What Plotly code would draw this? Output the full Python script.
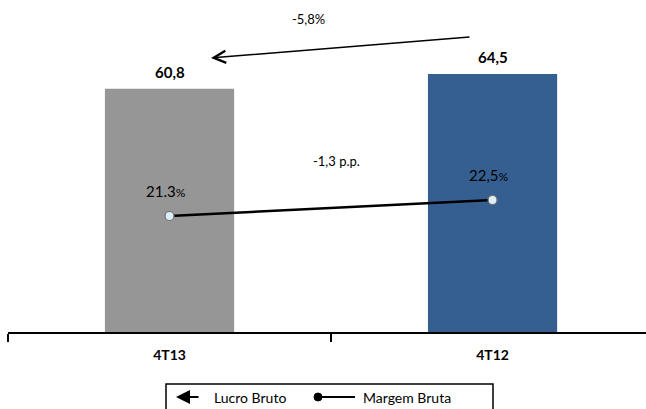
import plotly.graph_objects as go

categories = ["4T13", "4T12"]
lucro_bruto = [60.8, 64.5]
margem_bruta = [21.3, 22.5]
margem_labels = ["21.3", "22,5"]
bar_colors = ["#969696", "#365F91"]
var_lucro = "-5,8%"
var_margem = "-1,3 p.p."

W, H = 646, 409
PL, PR, PT, PB = 8, 646, 0, 332
FONT = "Lato"


def px(x):
    return (x - PL) / (PR - PL)


def py(y):
    return (PB - y) / (PB - PT)


fig = go.Figure()
fig.add_trace(go.Bar(
    x=categories, y=lucro_bruto, marker=dict(color=bar_colors, line=dict(width=0)),
    width=0.4, showlegend=False, yaxis="y", hoverinfo="skip",
))
fig.add_trace(go.Scatter(
    x=categories, y=margem_bruta, mode="lines+markers", yaxis="y2",
    line=dict(color="black", width=2.5),
    marker=dict(size=9, color="#DDEFF5", line=dict(color="#6E6E6E", width=1.2)),
    showlegend=False, hoverinfo="skip",
))

annotations = []
for c, v in zip(categories, lucro_bruto):
    annotations.append(dict(
        x=c, y=v, xref="x", yref="y", text=f"{v:.1f}".replace(".", ","),
        showarrow=False, yshift=17, yanchor="middle",
        font=dict(family=FONT, size=15, color="black", weight="bold"),
    ))
for c, v, t in zip(categories, margem_bruta, margem_labels):
    annotations.append(dict(
        x=c, y=v, xref="x", yref="y2",
        text=t + "<span style='font-size:12px'>%</span>",
        showarrow=False, yshift=25, xshift=-4, yanchor="middle",
        font=dict(family=FONT, size=15, color="black"),
    ))

# variation annotations
annotations.append(dict(x=px(308), y=py(19), xref="paper", yref="paper", text=var_lucro,
                        showarrow=False, xanchor="center", yanchor="middle",
                        font=dict(family=FONT, size=13, color="black")))
annotations.append(dict(x=px(336), y=py(161), xref="paper", yref="paper", text=var_margem,
                        showarrow=False, xanchor="center", yanchor="middle",
                        font=dict(family=FONT, size=13, color="black")))
annotations.append(dict(x=px(211), y=py(58), xref="paper", yref="paper", text="",
                        showarrow=True, ax=260, ay=-21, arrowhead=5, arrowsize=1.6,
                        arrowwidth=1.5, arrowcolor="black", standoff=0))

# manual legend
annotations.append(dict(x=px(176), y=py(397), xref="paper", yref="paper", text="",
                        showarrow=True, ax=24, ay=0, arrowhead=2, arrowsize=1.4,
                        arrowwidth=2, arrowcolor="black", standoff=0))
annotations.append(dict(x=px(212), y=py(397), xref="paper", yref="paper", text="Lucro Bruto",
                        showarrow=False, xanchor="left", yanchor="middle",
                        font=dict(family=FONT, size=14, color="black")))
annotations.append(dict(x=px(361), y=py(397), xref="paper", yref="paper", text="Margem Bruta",
                        showarrow=False, xanchor="left", yanchor="middle",
                        font=dict(family=FONT, size=14, color="black")))

shapes = [
    dict(type="rect", xref="paper", yref="paper", x0=px(166), x1=px(493), y0=py(384), y1=py(420),
         line=dict(color="black", width=1.5), fillcolor="rgba(0,0,0,0)"),
    dict(type="line", xref="paper", yref="paper", x0=px(318), x1=px(355), y0=py(397), y1=py(397),
         line=dict(color="black", width=2)),
    dict(type="circle", xref="paper", yref="paper", x0=px(314), x1=px(322), y0=py(393), y1=py(401),
         line=dict(color="black", width=1), fillcolor="black"),
]

fig.update_layout(
    width=W, height=H,
    margin=dict(l=PL, r=W - PR, t=PT, b=H - PB, pad=0),
    paper_bgcolor="white", plot_bgcolor="white",
    xaxis=dict(
        type="category", range=[-0.5, 1.475], showgrid=False, zeroline=False,
        showline=True, linecolor="black", linewidth=2,
        ticks="outside", tickson="boundaries", ticklen=8, tickwidth=2, tickcolor="black",
        tickfont=dict(family=FONT, size=14, color="black", weight="bold"),
        ticklabelstandoff=9,
    ),
    yaxis=dict(range=[0, 83], visible=False, showgrid=False, zeroline=False),
    yaxis2=dict(range=[12.6, 37.5], overlaying="y", visible=False, showgrid=False, zeroline=False),
    annotations=annotations, shapes=shapes,
    showlegend=False,
)

fig.write_html("out.html")
